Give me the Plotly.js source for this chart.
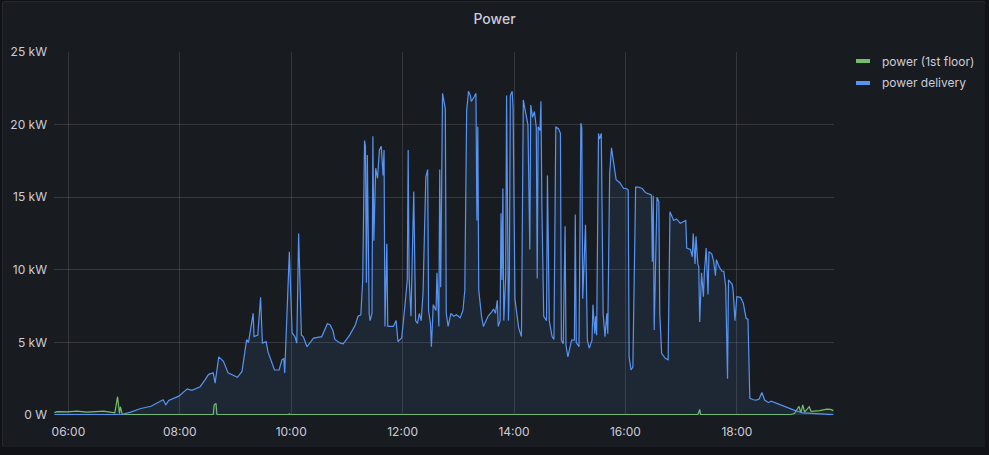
<!DOCTYPE html>
<html>
<head>
<meta charset="utf-8">
<script src="https://cdn.plot.ly/plotly-3.0.1.min.js"></script>
<style>
  html, body { margin: 0; padding: 0; background: #111217; width: 989px; height: 455px; overflow: hidden; }
  #panel { position: absolute; left: 2px; top: 1px; width: 983px; height: 446px; background: #181b1f;
           border: 1px solid #25282d; border-radius: 2px; box-sizing: border-box; }
  #chart { position: absolute; left: 1px; top: 1px; width: 981px; height: 444px; }
</style>
</head>
<body>
<div id="panel"><div id="chart"></div></div>
<script>
// ---- data ----
const day = "2024-06-01 ";

const deliveryTimes = [
  "05:45","06:56","07:07","07:18","07:29","07:40","07:42","07:45","07:48","07:59",
  "08:08","08:13","08:22","08:27","08:31","08:36","08:38","08:42","08:47","08:52",
  "09:02","09:07","09:12","09:14","09:19","09:20","09:24","09:27","09:29","09:33",
  "09:35","09:42","09:47","09:50","09:52","09:53","09:54","09:58","10:01","10:04",
  "10:06","10:08","10:11","10:13","10:17","10:24","10:33","10:39","10:42","10:45",
  "10:47","10:53","10:56","11:03","11:09","11:12","11:15","11:17","11:19","11:20",
  "11:21","11:22","11:24","11:25","11:27","11:28","11:29","11:31","11:33","11:35",
  "11:37","11:39","11:40","11:41","11:43","11:44","11:50","11:53","11:55","11:59",
  "12:02","12:05","12:06","12:07","12:09","12:12","12:14","12:16","12:18","12:20",
  "12:22","12:25","12:27","12:28","12:30","12:31","12:33","12:36","12:37","12:39",
  "12:40","12:41","12:43","12:44","12:46","12:47","12:49","12:52","12:55","12:58",
  "13:02","13:05","13:07","13:09","13:11","13:13","13:14","13:17","13:19","13:20",
  "13:21","13:22","13:25","13:27","13:30","13:32","13:36","13:38","13:40","13:42",
  "13:43","13:45","13:46","13:47","13:48","13:49","13:51","13:52","13:54","13:55",
  "13:56","13:57","13:58","13:59","14:01","14:03","14:05","14:08","14:10","14:12",
  "14:15","14:17","14:18","14:20","14:22","14:24","14:25","14:26","14:28","14:29",
  "14:30","14:32","14:35","14:36","14:38","14:41","14:43","14:45","14:48","14:50",
  "14:51","14:53","14:55","14:56","14:58","15:02","15:05","15:06","15:07","15:10",
  "15:12","15:13","15:14","15:17","15:19","15:21","15:24","15:25","15:27","15:28",
  "15:29","15:31","15:32","15:34","15:36","15:38","15:40","15:41","15:43","15:45",
  "15:47","15:50","15:54","15:58","16:01","16:03","16:04","16:06","16:08","16:10",
  "16:11","16:14","16:18","16:22","16:25","16:28","16:29","16:30","16:31","16:32",
  "16:34","16:36","16:37","16:39","16:43","16:46","16:48","16:52","16:55","16:59",
  "17:02","17:05","17:06","17:10","17:12","17:13","17:15","17:16","17:18","17:19",
  "17:20","17:22","17:24","17:25","17:27","17:29","17:30","17:33","17:35","17:37",
  "17:38","17:41","17:44","17:46","17:48","17:50","17:51","17:55","17:56","17:58",
  "18:00","18:04","18:07","18:10","18:12","18:13","18:14","18:18","18:21","18:24",
  "18:27","18:30","18:34","18:37","18:41","18:46","18:53","19:01","19:11","19:30",
  "19:44"
];
const deliveryKW = [
  0.02, 0.02, 0.2, 0.45, 0.6, 1.0, 1.05, 0.7, 1.0, 1.3,
  1.8, 1.7, 1.95, 2.4, 2.8, 2.9, 2.2, 4.0, 3.7, 2.9,
  2.6, 3.0, 5.2, 5.0, 7.0, 5.4, 5.5, 8.1, 4.95, 5.05,
  4.35, 3.1, 3.1, 3.8, 3.9, 2.9, 4.7, 11.25, 5.65, 5.4,
  4.95, 12.5, 5.5, 5.4, 4.7, 5.3, 5.4, 6.3, 6.2, 5.8,
  5.2, 4.95, 4.9, 5.5, 6.2, 6.8, 6.9, 9.3, 18.9, 18.5,
  9.1, 17.9, 7.0, 6.5, 7.0, 19.2, 12.0, 17.0, 16.3, 18.25,
  18.5, 16.5, 18.25, 6.1, 11.8, 6.1, 6.1, 6.5, 5.05, 5.3,
  7.2, 9.3, 18.25, 9.5, 6.8, 15.4, 6.5, 6.3, 7.0, 6.5,
  8.4, 16.4, 16.9, 7.2, 6.3, 4.7, 7.6, 7.2, 9.8, 6.1,
  16.9, 8.8, 22.15, 21.7, 21.1, 7.0, 6.1, 7.0, 6.8, 6.9,
  6.7, 7.2, 8.6, 21.0, 22.3, 22.0, 21.6, 21.9, 22.15, 13.4,
  19.85, 8.6, 6.8, 6.1, 6.5, 6.8, 7.1, 7.3, 7.0, 7.9,
  6.1, 6.5, 13.9, 9.3, 15.6, 6.5, 9.5, 22.0, 6.5, 9.5,
  22.0, 22.15, 22.3, 21.2, 8.0, 7.0, 6.0, 5.4, 21.7, 21.0,
  20.0, 11.4, 21.35, 20.5, 20.9, 19.8, 9.4, 19.85, 19.6, 21.6,
  14.5, 6.8, 6.5, 16.5, 6.5, 5.4, 5.2, 19.85, 19.7, 19.4,
  5.15, 4.9, 13.0, 4.8, 4.0, 5.15, 5.15, 13.8, 5.0, 4.7,
  20.1, 19.8, 8.0, 13.1, 5.15, 4.6, 5.15, 7.6, 5.6, 6.8,
  5.5, 19.4, 19.0, 19.4, 7.0, 5.4, 7.0, 5.6, 16.6, 18.4,
  17.6, 16.2, 16.0, 15.6, 15.6, 15.5, 4.0, 3.1, 3.3, 10.0,
  15.7, 15.7, 15.6, 15.3, 15.25, 15.15, 10.55, 15.1, 5.85, 9.7,
  15.0, 14.7, 7.0, 4.25, 3.9, 3.8, 14.0, 13.4, 13.5, 13.2,
  13.3, 13.4, 11.5, 11.4, 10.9, 12.5, 10.4, 12.3, 10.4, 10.2,
  6.4, 9.8, 8.15, 9.8, 11.5, 8.3, 11.25, 11.1, 10.6, 9.6,
  10.7, 10.2, 9.9, 9.9, 8.85, 2.5, 9.3, 9.0, 8.6, 6.5,
  8.15, 8.1, 7.7, 6.65, 6.6, 2.4, 1.15, 1.05, 1.03, 1.1,
  1.55, 1.03, 0.85, 0.95, 0.85, 0.69, 0.5, 0.35, 0.14, 0.06,
  0.02
];

const floorTimes = [
  "05:45","05:48","05:59","06:09","06:20","06:31","06:38","06:45","06:50","06:53",
  "06:55","06:56","06:58","07:17","08:36","08:37","08:39","08:40","09:57","09:58",
  "09:59","17:18","17:20","17:21","18:57","19:02","19:07","19:09","19:11","19:13",
  "19:18","19:20","19:29","19:37","19:41","19:44"
];
const floorKW = [
  0.16, 0.23, 0.22, 0.27, 0.2, 0.23, 0.27, 0.2, 0.15, 1.26,
  0.1, 0.57, 0.05, 0.02, 0.02, 0.7, 0.8, 0.04, 0.02, 0.08,
  0.02, 0.02, 0.39, 0.02, 0.02, 0.1, 0.6, 0.15, 0.69, 0.2,
  0.57, 0.25, 0.3, 0.4, 0.39, 0.3
];

const seriesNames = ["power (1st floor)", "power delivery"];
const seriesColors = ["#73bf69", "#5794f2"];
const seriesFills = ["rgba(115,191,105,0.10)", "rgba(87,148,242,0.10)"];

const yTickVals = [0, 5, 10, 15, 20, 25];
const yTickText = ["0 W", "5 kW", "10 kW", "15 kW", "20 kW", "25 kW"];
const xTickTimes = ["06:00", "08:00", "10:00", "12:00", "14:00", "16:00", "18:00"];
const xRange = ["05:44:30", "19:44:40"];

// ---- chart ----
const toDate = t => day + t;
const traces = [
  { x: floorTimes.map(toDate), y: floorKW },
  { x: deliveryTimes.map(toDate), y: deliveryKW }
].map((d, i) => ({
  type: "scatter", mode: "lines", name: seriesNames[i],
  x: d.x, y: d.y,
  line: { color: seriesColors[i], width: 1.2 },
  fill: "tozeroy", fillcolor: seriesFills[i],
  hoverinfo: "skip", showlegend: false
}));

const font = { family: "Inter, 'Noto Sans', sans-serif", color: "#ccccdc", size: 12 };
const gridColor = "rgba(204,204,220,0.16)";

const W = 981, H = 444;
const plotL = 50, plotT = 49, plotR = 151, plotB = 32;
const plotW = W - plotL - plotR, plotH = H - plotT - plotB;

// custom legend (swatch + text), positions in paper units
const legendShapes = [], legendAnn = [];
seriesNames.forEach((n, i) => {
  const yPix = 9 + i * 22;              // from top of plot area
  const yc = 1 - yPix / plotH;
  const x0 = (856 - 54) / plotW, x1 = (870 - 54) / plotW;
  legendShapes.push({ type: "rect", xref: "paper", yref: "paper",
    x0: x0, x1: x1, y0: yc - 2 / plotH, y1: yc + 2 / plotH,
    fillcolor: seriesColors[i], line: { width: 0 } });
  legendAnn.push({ xref: "paper", yref: "paper", x: (880 - 54) / plotW, y: yc,
    xanchor: "left", yanchor: "middle", text: n, showarrow: false,
    font: { family: font.family, color: "#ccccdc", size: 12 } });
});

const layout = {
  width: W, height: H,
  margin: { l: plotL, t: plotT, r: plotR, b: plotB, pad: 0 },
  paper_bgcolor: "#181b1f", plot_bgcolor: "#181b1f",
  font: font,
  title: { text: "Power", x: 0.5, xref: "container", xanchor: "center",
           y: 1 - 16 / H, yref: "container", yanchor: "middle",
           font: { family: font.family, size: 14, color: "#ccccdc", weight: 500 } },
  showlegend: false,
  xaxis: {
    type: "date", range: xRange.map(toDate),
    tickvals: xTickTimes.map(toDate), tickformat: "%H:%M",
    showgrid: true, gridcolor: gridColor, gridwidth: 1,
    zeroline: false, showline: false, ticks: "", ticklabelstandoff: 8,
    tickfont: { family: font.family, size: 12, color: "#ccccdc" }
  },
  yaxis: {
    range: [0, 25], tickvals: yTickVals, ticktext: yTickText,
    showgrid: true, gridcolor: gridColor, gridwidth: 1,
    zeroline: false, showline: false, ticks: "", ticklabelstandoff: 6,
    tickfont: { family: font.family, size: 12, color: "#ccccdc" }
  },
  shapes: legendShapes,
  annotations: legendAnn
};

Plotly.newPlot("chart", traces, layout, { staticPlot: true, displayModeBar: false });
</script>
</body>
</html>
